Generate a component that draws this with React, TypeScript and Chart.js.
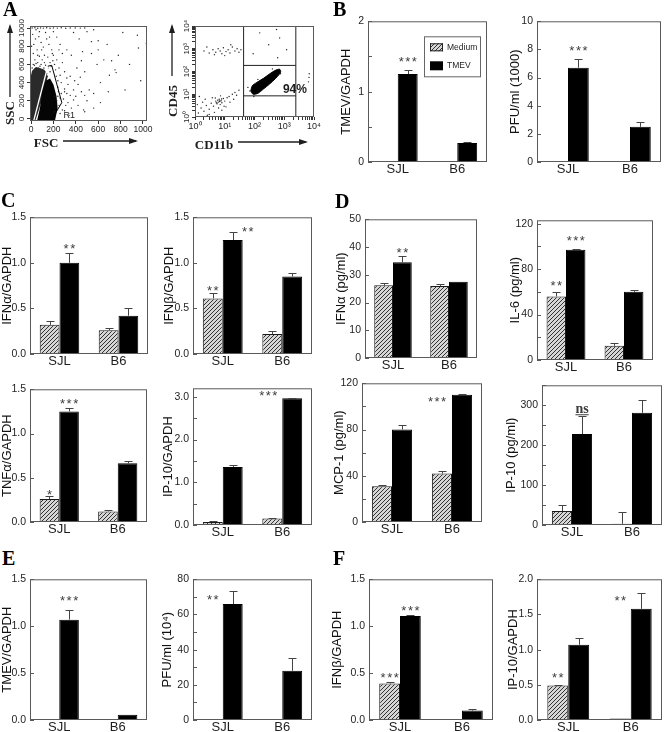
import React, { useEffect, useRef } from "react";
import { Chart, registerables } from "chart.js";
Chart.register(...registerables);

const SANS = "'Liberation Sans', Arial, Helvetica, sans-serif";
const SERIF = "'Liberation Serif', 'Times New Roman', Times, serif";
const INK = "#1e1e1e";

// ---------------- data ----------------
const strains = ["SJL", "B6"];
const noMedium: (number | null)[] = [null, null];
const noErr = [0, 0];

// Panel B
const bRnaTmev = [1.25, 0.27];
const bRnaTmevErr = [0.06, 0.01];
const bPfuTmev = [6.7, 2.5];
const bPfuTmevErr = [0.6, 0.35];

// Panel C
const cIfnaMedium = [0.32, 0.26];
const cIfnaMediumErr = [0.04, 0.02];
const cIfnaTmev = [1.0, 0.42];
const cIfnaTmevErr = [0.11, 0.08];
const cIfnbMedium = [0.61, 0.22];
const cIfnbMediumErr = [0.06, 0.03];
const cIfnbTmev = [1.25, 0.85];
const cIfnbTmevErr = [0.09, 0.04];
const cTnfMedium = [0.26, 0.12];
const cTnfMediumErr = [0.03, 0.01];
const cTnfTmev = [1.25, 0.665];
const cTnfTmevErr = [0.035, 0.025];
const cIp10Medium = [0.07, 0.15];
const cIp10MediumErr = [0.02, 0.015];
const cIp10Tmev = [1.36, 2.97];
const cIp10TmevErr = [0.04, 0.01];

// Panel D
const dIfnaMedium = [26.2, 26.0];
const dIfnaMediumErr = [0.8, 0.5];
const dIfnaTmev = [34.5, 27.5];
const dIfnaTmevErr = [2.3, 0];
const dIl6Medium = [56, 12.5];
const dIl6MediumErr = [4, 2.5];
const dIl6Tmev = [97, 60];
const dIl6TmevErr = [1, 2];
const dMcpMedium = [31, 42];
const dMcpMediumErr = [1.2, 2.2];
const dMcpTmev = [80, 110];
const dMcpTmevErr = [4, 1];
const dIp10Medium = [35, 3];
const dIp10MediumErr = [14, 30];
const dIp10Tmev = [228, 281];
const dIp10TmevErr = [45, 32];

// Panel E
const eRnaTmev = [1.07, 0.055];
const eRnaTmevErr = [0.1, 0];
const ePfuTmev = [66, 28];
const ePfuTmevErr = [7.5, 7];

// Panel F
const fIfnbMedium: (number | null)[] = [0.39, null];
const fIfnbMediumErr = [0.015, 0];
const fIfnbTmev = [1.11, 0.1];
const fIfnbTmevErr = [0.005, 0.015];
const fIp10Medium = [0.49, 0.02];
const fIp10MediumErr = [0.01, 0];
const fIp10Tmev = [1.07, 1.58];
const fIp10TmevErr = [0.1, 0.22];

// tick lists
const ticksHalfTo1p5 = [0, 0.5, 1, 1.5];
const ticksHalfTo2 = [0, 0.5, 1, 1.5, 2];
const ticksHalfTo3 = [0, 0.5, 1, 1.5, 2, 2.5, 3];
const ticksPfu1000 = [0, 2, 4, 6, 8, 10];
const ticksIfnaPg = [0, 10, 20, 30, 40, 50];
const ticks20To120 = [0, 20, 40, 60, 80, 100, 120];
const labels40To120 = [0, 40, 80, 120];
const ticksIp10Pg = [0, 50, 100, 150, 200, 250, 300, 350];
const labelsIp10Pg = [0, 100, 200, 300];
const ticksPfu1e4 = [0, 10, 20, 30, 40, 50, 60, 70, 80];
const labelsPfu1e4 = [0, 20, 40, 60, 80];

// Panel A – FSC / SSC
const fscTicks = [0, 200, 400, 600, 800, 1000];
const sscTicks = [0, 200, 400, 600, 800, 1000];
const fscSscSparse: [number, number][] = [
  [10, 1000], [35, 1002], [60, 998], [85, 1001], [110, 999], [140, 1002], [170, 998], [200, 1001], [235, 999], [270, 1002],
  [310, 998], [350, 1000], [395, 1001], [440, 999], [480, 1000],
  [15, 930], [40, 880], [70, 905], [25, 820], [55, 760], [90, 840], [110, 790], [140, 880], [160, 820], [185, 760],
  [120, 700], [75, 690], [35, 650], [60, 620], [100, 650], [150, 680], [200, 700], [230, 650], [170, 620], [210, 600],
  [250, 560], [280, 620], [300, 520], [260, 480], [320, 450], [240, 420], [330, 380], [350, 470], [390, 420], [420, 380],
  [380, 320], [450, 300], [300, 330], [270, 280], [350, 260], [400, 250], [480, 260], [500, 200], [290, 220], [330, 180],
  [420, 150], [360, 120], [470, 100], [300, 90], [260, 60], [340, 40], [520, 320], [560, 280], [590, 600], [540, 850],
  [430, 880], [600, 860], [650, 650], [700, 480], [760, 510], [720, 640], [820, 950], [950, 920], [620, 400], [480, 520],
  [450, 640], [360, 700], [320, 760], [260, 820], [230, 900], [200, 960], [380, 950], [500, 960], [560, 980], [250, 760],
  [280, 720], [130, 590], [170, 520], [240, 350], [270, 400], [210, 250], [230, 200], [250, 150], [280, 100], [210, 80],
  [150, 560], [50, 560], [20, 600], [80, 580], [440, 460], [410, 560], [460, 740], [540, 720], [600, 760], [680, 820],
  [780, 700], [880, 600], [960, 780], [980, 420], [840, 320], [690, 300], [620, 180], [560, 120],
  [10, 560], [30, 590], [45, 610], [65, 560], [90, 600], [115, 560], [125, 520], [140, 500], [100, 540], [60, 700],
  [20, 720], [5, 800], [120, 620], [180, 580], [195, 640], [220, 540], [225, 470], [245, 300], [260, 230], [240, 250],
  [300, 300], [320, 280], [310, 150], [380, 210], [190, 720], [95, 760], [45, 980], [130, 950], [165, 900], [75, 960],
  [1030, 830], [750, 540], [480, 80],
];
const fscSscDenseLeft: [number, number][] = [
  [-8, -15], [-8, 440], [10, 530], [40, 570], [80, 560], [120, 540], [150, 470], [120, 300], [70, 100], [40, -15], [-8, -15],
];
const fscSscDenseGate: [number, number][] = [
  [55, -15], [80, 120], [100, 300], [130, 420], [170, 445], [200, 380], [228, 250], [238, 120], [215, -15], [55, -15],
];
const gateR1: [number, number][] = [[25, -15], [150, 580], [185, 590], [275, 180], [180, -15]];

// Panel A – CD11b / CD45 (log)
const logTicks = [1, 2, 3, 4, 5, 6, 7, 8, 9, 10, 20, 30, 40, 50, 60, 70, 80, 90, 100, 200, 300, 400, 500, 600, 700, 800, 900,
  1000, 2000, 3000, 4000, 5000, 6000, 7000, 8000, 9000, 10000];
const logMajor = [1, 10, 100, 1000, 10000];
const cdSparse: [number, number][] = [
  [1.3, 1.5], [1.6, 2.5], [2, 1.8], [2.4, 3.2], [1.8, 4.5], [3, 2.2], [3.5, 4], [4.2, 3], [5, 5], [5.5, 3.8], [6, 4.5],
  [6.5, 6], [7, 3.5], [7.5, 5.2], [8, 4.2], [5.8, 5.5], [6.8, 4.8], [9, 6.5], [10, 5], [12, 7], [14, 8], [18, 10],
  [22, 12], [25, 9], [3, 1.3], [4.5, 1.6], [8, 2], [11, 2.8], [2.2, 6], [1.4, 8], [3.8, 7], [15, 4.5], [20, 6],
  [2.6, 1.2], [1.2, 3.5], [9.5, 3], [6.2, 2.5], [4.8, 6.8], [7.2, 8.5], [30, 15], [5.2, 4.2], [6.6, 5.1], [7.8, 6.2],
  [2, 800], [3, 650], [4, 900], [5, 700], [6, 1000], [7, 800], [8, 600], [9, 1100], [11, 750], [13, 900], [15, 650],
  [18, 1200], [22, 800], [26, 1000], [30, 700], [35, 900], [2.5, 1200], [4.5, 550], [10, 500], [16, 1500],
  [150, 5000], [550, 7000], [700, 3000], [300, 1500], [1200, 900], [90, 600], [600, 400],
  [6800, 55], [6500, 35], [6900, 80],
  [70, 14], [95, 8], [400, 130], [750, 80], [130, 45], [60, 20],
];
const cdCluster: [number, number][] = [
  [75, 14], [90, 10], [130, 11], [200, 17], [320, 28], [500, 48], [680, 75], [760, 100], [700, 125], [520, 115],
  [330, 80], [200, 50], [120, 33], [85, 24], [75, 14],
];
const cd11bGateLow = 43;
const cd11bGateHigh = 2450;
const cd45GateLow = 8.5;
const cd45GateHigh = 185;

// ---------------- helpers ----------------
const pts = (a: [number, number][]) => a.map(([x, y]) => ({ x, y }));

function makeHatch(ctx: CanvasRenderingContext2D) {
  const t = document.createElement("canvas");
  t.width = 4;
  t.height = 4;
  const g = t.getContext("2d")!;
  g.fillStyle = "#d6d6d6";
  g.fillRect(0, 0, 4, 4);
  g.strokeStyle = "#333";
  g.lineWidth = 1;
  g.beginPath();
  g.moveTo(0, 4); g.lineTo(4, 0);
  g.moveTo(-1, 1); g.lineTo(1, -1);
  g.moveTo(3, 5); g.lineTo(5, 3);
  g.stroke();
  return ctx.createPattern(t, "repeat");
}

function drawArrow(ctx: CanvasRenderingContext2D, x1: number, y1: number, x2: number, y2: number) {
  ctx.beginPath();
  ctx.moveTo(x1, y1);
  ctx.lineTo(x2, y2);
  ctx.stroke();
  const ang = Math.atan2(y2 - y1, x2 - x1);
  const L = 7, W = 3;
  ctx.beginPath();
  ctx.moveTo(x2 + Math.cos(ang) * 2, y2 + Math.sin(ang) * 2);
  ctx.lineTo(x2 - L * Math.cos(ang) + W * Math.sin(ang), y2 - L * Math.sin(ang) - W * Math.cos(ang));
  ctx.lineTo(x2 - L * Math.cos(ang) - W * Math.sin(ang), y2 - L * Math.sin(ang) + W * Math.cos(ang));
  ctx.closePath();
  ctx.fill();
}

type Note = { ds: number; cat: number; value: number; text: string; dx?: number };
type BarSpec = {
  box: [number, number, number, number];
  titleX: number;
  title: string;
  max: number;
  ticks: number[];
  labeled: number[];
  decimals: number;
  medium: (number | null)[];
  mediumErr: number[];
  tmev: (number | null)[];
  tmevErr: number[];
  notes: Note[];
  legend?: boolean;
};

const BARS: BarSpec[] = [
  { box: [368, 21, 487, 162], titleX: 347, title: "TMEV/GAPDH", max: 2, ticks: ticksHalfTo2, labeled: [0, 1, 2], decimals: 0,
    medium: noMedium, mediumErr: noErr, tmev: bRnaTmev, tmevErr: bRnaTmevErr, notes: [{ ds: 1, cat: 0, value: 1.46, text: "***" }], legend: true },
  { box: [537, 21, 661, 162], titleX: 516, title: "PFU/ml (1000)", max: 10, ticks: ticksPfu1000, labeled: ticksPfu1000, decimals: 0,
    medium: noMedium, mediumErr: noErr, tmev: bPfuTmev, tmevErr: bPfuTmevErr, notes: [{ ds: 1, cat: 0, value: 8.1, text: "***" }] },
  { box: [30, 217, 148, 354], titleX: 8, title: "IFNα/GAPDH", max: 1.5, ticks: ticksHalfTo1p5, labeled: ticksHalfTo1p5, decimals: 1,
    medium: cIfnaMedium, mediumErr: cIfnaMediumErr, tmev: cIfnaTmev, tmevErr: cIfnaTmevErr, notes: [{ ds: 1, cat: 0, value: 1.19, text: "**" }] },
  { box: [193, 217, 312, 354], titleX: 170, title: "IFNβ/GAPDH", max: 1.5, ticks: ticksHalfTo1p5, labeled: ticksHalfTo1p5, decimals: 1,
    medium: cIfnbMedium, mediumErr: cIfnbMediumErr, tmev: cIfnbTmev, tmevErr: cIfnbTmevErr,
    notes: [{ ds: 0, cat: 0, value: 0.72, text: "**" }, { ds: 1, cat: 0, value: 1.37, text: "**", dx: 15 }] },
  { box: [30, 389, 147, 522], titleX: 8, title: "TNFα/GAPDH", max: 1.5, ticks: ticksHalfTo1p5, labeled: ticksHalfTo1p5, decimals: 1,
    medium: cTnfMedium, mediumErr: cTnfMediumErr, tmev: cTnfTmev, tmevErr: cTnfTmevErr,
    notes: [{ ds: 0, cat: 0, value: 0.34, text: "*" }, { ds: 1, cat: 0, value: 1.37, text: "***" }] },
  { box: [193, 388, 312, 525], titleX: 169, title: "IP-10/GAPDH", max: 3.2, ticks: ticksHalfTo3, labeled: [0, 1, 2, 3], decimals: 1,
    medium: cIp10Medium, mediumErr: cIp10MediumErr, tmev: cIp10Tmev, tmevErr: cIp10TmevErr,
    notes: [{ ds: 0, cat: 1, value: 3.09, text: "***", dx: -4 }] },
  { box: [365, 219, 477, 358], titleX: 342, title: "IFNα (pg/ml)", max: 50, ticks: ticksIfnaPg, labeled: ticksIfnaPg, decimals: 0,
    medium: dIfnaMedium, mediumErr: dIfnaMediumErr, tmev: dIfnaTmev, tmevErr: dIfnaTmevErr, notes: [{ ds: 1, cat: 0, value: 39, text: "**" }] },
  { box: [537, 220, 653, 360], titleX: 516, title: "IL-6 (pg/ml)", max: 123, ticks: ticks20To120, labeled: labels40To120, decimals: 0,
    medium: dIl6Medium, mediumErr: dIl6MediumErr, tmev: dIl6Tmev, tmevErr: dIl6TmevErr,
    notes: [{ ds: 0, cat: 0, value: 68, text: "**" }, { ds: 1, cat: 0, value: 107, text: "***" }] },
  { box: [362, 383, 482, 522], titleX: 340, title: "MCP-1 (pg/ml)", max: 120, ticks: ticks20To120, labeled: labels40To120, decimals: 0,
    medium: dMcpMedium, mediumErr: dMcpMediumErr, tmev: dMcpTmev, tmevErr: dMcpTmevErr,
    notes: [{ ds: 0, cat: 1, value: 106, text: "***", dx: -5 }] },
  { box: [542, 385, 662, 525], titleX: 512, title: "IP-10 (pg/ml)", max: 350, ticks: ticksIp10Pg, labeled: labelsIp10Pg, decimals: 0,
    medium: dIp10Medium, mediumErr: dIp10MediumErr, tmev: dIp10Tmev, tmevErr: dIp10TmevErr,
    notes: [{ ds: 1, cat: 0, value: 290, text: "ns" }] },
  { box: [30, 579, 147, 720], titleX: 8, title: "TMEV/GAPDH", max: 1.5, ticks: ticksHalfTo1p5, labeled: ticksHalfTo1p5, decimals: 1,
    medium: noMedium, mediumErr: noErr, tmev: eRnaTmev, tmevErr: eRnaTmevErr, notes: [{ ds: 1, cat: 0, value: 1.3, text: "***" }] },
  { box: [193, 579, 312, 720], titleX: 168, title: "PFU/ml (10⁴)", max: 80, ticks: ticksPfu1e4, labeled: labelsPfu1e4, decimals: 0,
    medium: noMedium, mediumErr: noErr, tmev: ePfuTmev, tmevErr: ePfuTmevErr, notes: [{ ds: 0, cat: 0, value: 70, text: "**" }] },
  { box: [369, 579, 493, 720], titleX: 338, title: "IFNβ/GAPDH", max: 1.5, ticks: ticksHalfTo1p5, labeled: ticksHalfTo1p5, decimals: 1,
    medium: fIfnbMedium, mediumErr: fIfnbMediumErr, tmev: fIfnbTmev, tmevErr: fIfnbTmevErr,
    notes: [{ ds: 0, cat: 0, value: 0.48, text: "***" }, { ds: 1, cat: 0, value: 1.19, text: "***" }] },
  { box: [537, 579, 662, 720], titleX: 514, title: "IP-10/GAPDH", max: 2, ticks: ticksHalfTo2, labeled: ticksHalfTo2, decimals: 1,
    medium: fIp10Medium, mediumErr: fIp10MediumErr, tmev: fIp10Tmev, tmevErr: fIp10TmevErr,
    notes: [{ ds: 0, cat: 0, value: 0.64, text: "**" }, { ds: 0, cat: 1, value: 1.73, text: "**" }] },
];

const X_AXIS_H = 20;

function frame(ctx: CanvasRenderingContext2D, a: any) {
  ctx.strokeStyle = "#5a5a5a";
  ctx.lineWidth = 1;
  ctx.strokeRect(a.left + 0.5, a.top + 0.5, a.right - a.left - 1, a.bottom - a.top - 1);
}

const barDecor = {
  id: "barDecor",
  afterDatasetsDraw(chart: any) {
    const { ctx, chartArea: a } = chart;
    const ys = chart.scales.y;
    ctx.save();
    chart.data.datasets.forEach((ds: any, i: number) => {
      const meta = chart.getDatasetMeta(i);
      (ds.data as (number | null)[]).forEach((v, j) => {
        const e = ds.errs ? ds.errs[j] : 0;
        if (v == null || !e) return;
        const bar: any = meta.data[j];
        const x = Math.round(bar.x) + 0.5;
        const yTop = Math.round(ys.getPixelForValue(v + e)) + 0.5;
        const yVal = ys.getPixelForValue(v);
        ctx.strokeStyle = "#444";
        ctx.lineWidth = 1;
        ctx.beginPath();
        ctx.moveTo(x, yVal);
        ctx.lineTo(x, yTop);
        ctx.moveTo(x - 4, yTop);
        ctx.lineTo(x + 4, yTop);
        ctx.stroke();
      });
    });
    frame(ctx, a);
    ctx.beginPath();
    ys.ticks.forEach((t: any) => {
      const py = Math.round(ys.getPixelForValue(t.value)) + 0.5;
      ctx.moveTo(a.left, py);
      ctx.lineTo(a.left + 4, py);
    });
    ctx.stroke();
    ctx.restore();
  },
};

function notesPlugin(notes: Note[]) {
  return {
    id: "notes",
    afterDraw(chart: any) {
      const ctx = chart.ctx;
      const ys = chart.scales.y;
      notes.forEach((n) => {
        const tm: any = chart.getDatasetMeta(1).data[n.cat];
        const x = (n.ds === 1 ? tm.x : tm.x - tm.width) + (n.dx || 0);
        const y = ys.getPixelForValue(n.value);
        ctx.save();
        ctx.fillStyle = "#3c3c3c";
        ctx.textAlign = "center";
        if (n.text === "ns") {
          ctx.font = `bold 14px ${SERIF}`;
          ctx.textBaseline = "middle";
          ctx.fillText(n.text, x, y);
          const w = ctx.measureText(n.text).width;
          ctx.fillRect(x - w / 2, y + 5, w, 1);
        } else {
          ctx.font = `13px ${SANS}`;
          ctx.textBaseline = "alphabetic";
          (ctx as any).letterSpacing = "1.5px";
          ctx.fillText(n.text, x + 0.8, y + 7);
        }
        ctx.restore();
      });
    },
  };
}

const legendPlugin = {
  id: "barLegend",
  afterDraw(chart: any) {
    const { ctx, chartArea: a } = chart;
    const x0 = a.left + 56, y0 = a.top + 15, w = 56, h = 40;
    ctx.save();
    ctx.strokeStyle = "#666";
    ctx.lineWidth = 1;
    ctx.strokeRect(x0 + 0.5, y0 + 0.5, w, h);
    ctx.fillStyle = chart.data.datasets[0].backgroundColor;
    ctx.fillRect(x0 + 6, y0 + 7, 13, 8);
    ctx.strokeStyle = "#222";
    ctx.strokeRect(x0 + 6.5, y0 + 7.5, 12, 7);
    ctx.fillStyle = "#000";
    ctx.fillRect(x0 + 6, y0 + 25, 13, 9);
    ctx.font = `8.5px ${SANS}`;
    ctx.fillStyle = INK;
    ctx.textBaseline = "middle";
    ctx.fillText("Medium", x0 + 23, y0 + 11.5);
    ctx.fillText("TMEV", x0 + 23, y0 + 29.5);
    ctx.restore();
  },
};

function barGeometry(s: BarSpec) {
  const [l, t, r, b] = s.box;
  const left = s.titleX - 8;
  const top = t - 10;
  const width = Math.min(r + 5, 666) - left;
  const height = b + X_AXIS_H - top;
  return { left, top, width, height };
}

function barConfig(s: BarSpec, ctx: CanvasRenderingContext2D) {
  const g = barGeometry(s);
  const [l, t, r] = s.box;
  const hatch = makeHatch(ctx);
  const plugins: any[] = [barDecor, notesPlugin(s.notes)];
  if (s.legend) plugins.push(legendPlugin);
  return {
    type: "bar",
    data: {
      labels: strains,
      datasets: [
        { label: "Medium", data: s.medium, errs: s.mediumErr, backgroundColor: hatch, borderColor: "#1a1a1a", borderWidth: 1 },
        { label: "TMEV", data: s.tmev, errs: s.tmevErr, backgroundColor: "#000", borderColor: "#000", borderWidth: 1 },
      ],
    },
    options: {
      animation: false,
      responsive: false,
      devicePixelRatio: 1,
      layout: { padding: { top: t - g.top, right: g.left + g.width - r, left: 0, bottom: 0 } },
      plugins: { legend: { display: false }, tooltip: { enabled: false } },
      datasets: { bar: { categoryPercentage: 0.67, barPercentage: 1.0 } },
      scales: {
        x: {
          grid: { display: false, drawTicks: false },
          border: { display: false },
          ticks: { font: { family: SANS, size: 13 }, color: INK, padding: 0 },
          afterFit: (sc: any) => { sc.height = X_AXIS_H; },
        },
        y: {
          min: 0,
          max: s.max,
          grid: { display: false, drawTicks: false },
          border: { display: false },
          afterBuildTicks: (sc: any) => { sc.ticks = s.ticks.map((v) => ({ value: v })); },
          ticks: {
            autoSkip: false,
            padding: 4,
            font: { family: SANS, size: 10.5 },
            color: INK,
            callback: (v: number) => (s.labeled.includes(v) ? v.toFixed(s.decimals) : ""),
          },
          title: { display: true, text: s.title, font: { family: SANS, size: 13 }, color: "#111", padding: 0 },
          afterFit: (sc: any) => { sc.width = l - g.left; },
        },
      },
    },
    plugins,
  };
}

// ---------- scatter (panel A) ----------
type Decor = {
  originX: number;
  originY: number;
  yLabels: [number, string][];
  yTitle: string;
  yTitleAt: [number, number];
  yArrow: [number, number, number];
  xTitle: string;
  xTitleAt: [number, number];
  xArrow: [number, number, number];
  notes: { x: number; y: number; text: string; font: string }[];
};

function scatterDecor(d: Decor) {
  return {
    id: "scatterDecor",
    afterDraw(chart: any) {
      const { ctx, chartArea: a } = chart;
      const xs = chart.scales.x, ys = chart.scales.y;
      ctx.save();
      frame(ctx, a);
      ctx.fillStyle = INK;
      ctx.strokeStyle = INK;
      ctx.font = `8px ${SANS}`;
      ctx.textAlign = "center";
      ctx.textBaseline = "middle";
      d.yLabels.forEach(([v, txt]) => {
        const py = ys.getPixelForValue(v);
        ctx.save();
        ctx.translate(a.left - 8, py);
        ctx.rotate(-Math.PI / 2);
        ctx.fillText(txt, 0, 0);
        ctx.restore();
      });
      d.notes.forEach((n) => {
        ctx.font = n.font;
        ctx.textAlign = "left";
        ctx.fillText(n.text, xs.getPixelForValue(n.x), ys.getPixelForValue(n.y));
      });
      ctx.font = `bold 13px ${SERIF}`;
      ctx.textAlign = "center";
      ctx.save();
      ctx.translate(d.yTitleAt[0] - d.originX, d.yTitleAt[1] - d.originY);
      ctx.rotate(-Math.PI / 2);
      ctx.fillText(d.yTitle, 0, 0);
      ctx.restore();
      ctx.fillText(d.xTitle, d.xTitleAt[0] - d.originX, d.xTitleAt[1] - d.originY);
      ctx.lineWidth = 1.3;
      drawArrow(ctx, d.yArrow[0] - d.originX, d.yArrow[1] - d.originY, d.yArrow[0] - d.originX, d.yArrow[2] - d.originY);
      drawArrow(ctx, d.xArrow[0] - d.originX, d.xArrow[2] - d.originY, d.xArrow[1] - d.originX, d.xArrow[2] - d.originY);
      ctx.restore();
    },
  };
}

const SC1 = { left: 0, top: 14, width: 162, height: 142, box: [30, 26, 147, 121] };
const SC2 = { left: 160, top: 14, width: 170, height: 142, box: [195, 26, 314, 117] };

function axisCommon(extra: any) {
  return {
    grid: { display: true, drawOnChartArea: false, drawTicks: true, tickLength: 3, color: "#333" },
    border: { display: false },
    ...extra,
  };
}

function fscConfig() {
  const [l, t, r, b] = SC1.box;
  return {
    type: "scatter",
    data: {
      datasets: [
        { type: "line", data: pts(gateR1.slice(1)), borderColor: "#000", borderWidth: 1, pointRadius: 0, fill: false, tension: 0, order: 0 },
        { type: "line", data: pts(gateR1.slice(0, 2)), borderColor: "#fff", borderWidth: 1.3, pointRadius: 0, fill: false, tension: 0, order: 0 },
        { data: pts(fscSscSparse), pointRadius: 0.7, backgroundColor: "#222", borderWidth: 0, order: 1 },
        { type: "line", data: pts(fscSscDenseGate), fill: "shape", backgroundColor: "#050505", borderWidth: 0, pointRadius: 0, tension: 0, order: 2 },
        { type: "line", data: pts(fscSscDenseLeft), fill: "shape", backgroundColor: "#2a2a2a", borderWidth: 0, pointRadius: 0, tension: 0, order: 3 },
      ],
    },
    options: {
      animation: false,
      responsive: false,
      devicePixelRatio: 1,
      layout: { padding: { top: t - SC1.top, right: SC1.left + SC1.width - r, left: 0, bottom: 0 } },
      plugins: { legend: { display: false }, tooltip: { enabled: false } },
      scales: {
        x: axisCommon({
          type: "linear", min: -9, max: 1036,
          afterBuildTicks: (sc: any) => { sc.ticks = fscTicks.map((v) => ({ value: v })); },
          ticks: { font: { family: SANS, size: 8.5 }, color: INK, padding: 1, maxRotation: 0, autoSkip: false, callback: (v: number) => String(v) },
          afterFit: (sc: any) => { sc.height = SC1.top + SC1.height - b; },
        }),
        y: axisCommon({
          type: "linear", min: -22, max: 1022,
          afterBuildTicks: (sc: any) => { sc.ticks = sscTicks.map((v) => ({ value: v })); },
          ticks: { display: false },
          afterFit: (sc: any) => { sc.width = l - SC1.left; },
        }),
      },
    },
    plugins: [
      scatterDecor({
        originX: SC1.left, originY: SC1.top,
        yLabels: sscTicks.map((v) => [v, String(v)] as [number, string]),
        yTitle: "SSC", yTitleAt: [11, 113], yArrow: [10, 97, 26],
        xTitle: "FSC", xTitleAt: [46, 144], xArrow: [63, 136, 141],
        notes: [{ x: 290, y: 40, text: "R1", font: `9px ${SANS}` }],
      }),
    ],
  };
}

const sup = ["⁰", "¹", "²", "³", "⁴"];
const logLabel = (v: number) => "10" + sup[Math.round(Math.log10(v))];

function cdConfig() {
  const [l, t, r, b] = SC2.box;
  const gate = (a: [number, number][]) => ({
    type: "line", data: pts(a), borderColor: "#222", borderWidth: 1, pointRadius: 0, fill: false, tension: 0, order: 0,
  });
  return {
    type: "scatter",
    data: {
      datasets: [
        gate([[cd11bGateLow, 1], [cd11bGateLow, 10000]]),
        gate([[cd11bGateHigh, 1], [cd11bGateHigh, 10000]]),
        gate([[cd11bGateLow, cd45GateHigh], [cd11bGateHigh, cd45GateHigh]]),
        gate([[cd11bGateLow, cd45GateLow], [cd11bGateHigh, cd45GateLow]]),
        { data: pts(cdSparse), pointRadius: 0.7, backgroundColor: "#222", borderWidth: 0, order: 1 },
        { type: "line", data: pts(cdCluster), fill: "shape", backgroundColor: "#000", borderColor: "#000", borderWidth: 1, pointRadius: 0, tension: 0.3, order: 2 },
      ],
    },
    options: {
      animation: false,
      responsive: false,
      devicePixelRatio: 1,
      layout: { padding: { top: t - SC2.top, right: SC2.left + SC2.width - r, left: 0, bottom: 0 } },
      plugins: { legend: { display: false }, tooltip: { enabled: false } },
      scales: {
        x: axisCommon({
          type: "logarithmic", min: 1, max: 10000,
          afterBuildTicks: (sc: any) => { sc.ticks = logTicks.map((v) => ({ value: v })); },
          ticks: {
            font: { family: SANS, size: 9 }, color: INK, padding: 1, maxRotation: 0, autoSkip: false,
            callback: (v: number) => (logMajor.includes(v) ? logLabel(v) : ""),
          },
          afterFit: (sc: any) => { sc.height = SC2.top + SC2.height - b; },
        }),
        y: axisCommon({
          type: "logarithmic", min: 1, max: 10000,
          afterBuildTicks: (sc: any) => { sc.ticks = logTicks.map((v) => ({ value: v })); },
          ticks: { display: false },
          afterFit: (sc: any) => { sc.width = l - SC2.left; },
        }),
      },
    },
    plugins: [
      scatterDecor({
        originX: SC2.left, originY: SC2.top,
        yLabels: logMajor.map((v) => [v, logLabel(v)] as [number, string]),
        yTitle: "CD45", yTitleAt: [174, 101], yArrow: [172, 76, 26],
        xTitle: "CD11b", xTitleAt: [214, 146], xArrow: [238, 306, 142],
        notes: [{ x: 900, y: 16, text: "94%", font: `bold 12px ${SANS}` }],
      }),
    ],
  };
}

// ---------- components ----------
function ChartCanvas(props: { left: number; top: number; width: number; height: number; build: (ctx: CanvasRenderingContext2D) => any }) {
  const ref = useRef<HTMLCanvasElement>(null);
  useEffect(() => {
    const c = ref.current!;
    const chart = new Chart(c, props.build(c.getContext("2d")!));
    return () => chart.destroy();
  }, []);
  return (
    <canvas
      ref={ref}
      width={props.width}
      height={props.height}
      style={{ position: "absolute", left: props.left, top: props.top, width: props.width, height: props.height }}
    />
  );
}

const panelLetters: [string, number, number][] = [
  ["A", 3, 16], ["B", 333, 16], ["C", 1, 207], ["D", 335, 208], ["E", 2, 565], ["F", 333, 565],
];

export default function App() {
  return (
    <div style={{ position: "absolute", left: 0, top: 0, width: 664, height: 732, background: "#fff", overflow: "hidden" }}>
      <ChartCanvas left={SC1.left} top={SC1.top} width={SC1.width} height={SC1.height} build={() => fscConfig()} />
      <ChartCanvas left={SC2.left} top={SC2.top} width={SC2.width} height={SC2.height} build={() => cdConfig()} />
      {BARS.map((s, i) => {
        const g = barGeometry(s);
        return <ChartCanvas key={i} left={g.left} top={g.top} width={g.width} height={g.height} build={(ctx) => barConfig(s, ctx)} />;
      })}
      {panelLetters.map(([ch, x, base]) => (
        <div
          key={ch}
          style={{
            position: "absolute", left: x, top: base - 17, fontFamily: SERIF, fontWeight: "bold",
            fontSize: 20, lineHeight: "20px", color: "#000",
          }}
        >
          {ch}
        </div>
      ))}
    </div>
  );
}
